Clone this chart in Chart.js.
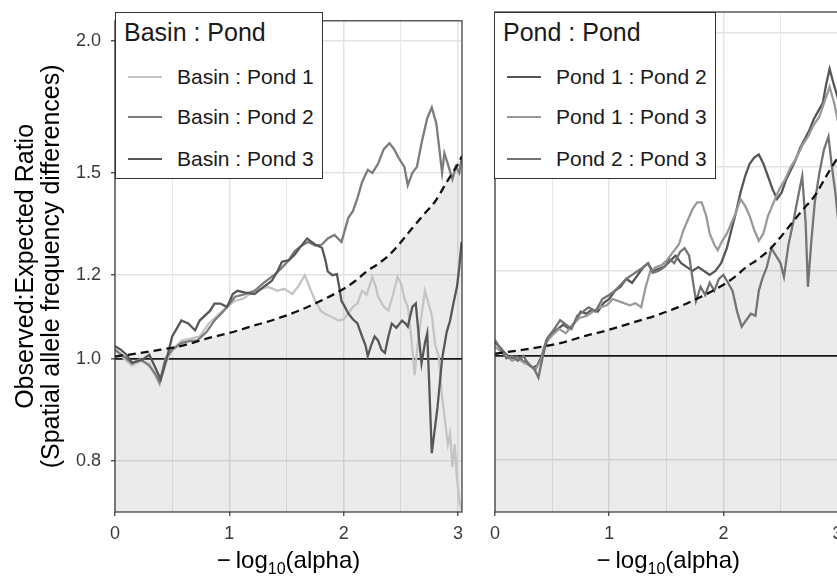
<!DOCTYPE html>
<html><head><meta charset="utf-8">
<script src="https://cdn.jsdelivr.net/npm/chart.js@4/dist/chart.umd.min.js"></script>
<style>
html,body{margin:0;padding:0;width:837px;height:576px;overflow:hidden;background:#fff;}
#wrap{position:relative;width:837px;height:576px;overflow:hidden;}
canvas{position:absolute;top:0;}
#c1{left:0;}
#c2{left:480px;}
.legend{position:absolute;top:12px;height:165px;border:1px solid #333;background:#fff;font-family:"Liberation Sans",Arial,sans-serif;color:#1a1a1a;z-index:2;}
.legend .ttl{position:absolute;left:8px;top:4px;font-size:25px;line-height:30px;white-space:nowrap;}
.legend .item{position:absolute;left:0;height:24px;line-height:24px;font-size:21px;white-space:nowrap;}
.legend .sw{position:absolute;left:12px;top:11px;width:34px;height:2px;}
.legend .lab{position:absolute;left:61px;top:0;}
#lg1{left:115px;width:206px;}
#lg2{left:494px;width:220px;}
</style></head>
<body>
<div id="wrap">
<canvas id="c1" width="475" height="576"></canvas>
<canvas id="c2" width="380" height="576"></canvas>
<div id="lg1" class="legend"></div>
<div id="lg2" class="legend"></div>
</div>
<script>
// ---------- data ----------
const xTickValues = [0, 0.5, 1, 1.5, 2, 2.5, 3];
const yTickValues = [0.8, 1.0, 1.2, 1.5, 2.0];
const xMin = 0, xMax = 3.034, yMin = 0.716, yMax = 2.09;
const yTitleLines = ['Observed:Expected Ratio', '(Spatial allele frequency differences)'];
const leftLegendTitle = 'Basin : Pond';
const rightLegendTitle = 'Pond : Pond';
const leftLabels = ['Basin : Pond 1', 'Basin : Pond 2', 'Basin : Pond 3'];
const rightLabels = ['Pond 1 : Pond 2', 'Pond 1 : Pond 3', 'Pond 2 : Pond 3'];

const expected = [[0,1.005],[0.2,1.012],[0.4,1.02],[0.6,1.03],[0.8,1.045],[1.0,1.058],[1.2,1.074],[1.4,1.09],[1.6,1.11],[1.8,1.135],[2.0,1.165],[2.1,1.185],[2.2,1.21],[2.3,1.23],[2.4,1.255],[2.5,1.29],[2.6,1.33],[2.7,1.37],[2.8,1.41],[2.9,1.47],[2.95,1.50],[3.0,1.53],[3.034,1.556]];

const basinPond1 = [[0,1.02],[0.08,1.0],[0.15,0.985],[0.22,0.995],[0.30,0.99],[0.36,0.96],[0.39,0.945],[0.44,0.99],[0.50,1.02],[0.58,1.04],[0.66,1.045],[0.74,1.05],[0.82,1.08],[0.90,1.10],[0.98,1.12],[1.05,1.135],[1.12,1.14],[1.22,1.16],[1.28,1.165],[1.34,1.17],[1.42,1.16],[1.48,1.165],[1.55,1.152],[1.60,1.17],[1.66,1.20],[1.70,1.17],[1.75,1.135],[1.80,1.11],[1.83,1.104],[1.90,1.095],[1.95,1.087],[2.00,1.09],[2.04,1.104],[2.08,1.12],[2.12,1.128],[2.16,1.16],[2.20,1.15],[2.25,1.195],[2.28,1.17],[2.30,1.145],[2.35,1.12],[2.39,1.111],[2.43,1.15],[2.47,1.195],[2.50,1.18],[2.53,1.14],[2.56,1.12],[2.59,1.05],[2.62,0.965],[2.65,1.04],[2.68,1.10],[2.71,1.16],[2.74,1.13],[2.77,1.10],[2.80,1.03],[2.83,1.006],[2.86,0.92],[2.89,0.866],[2.91,0.83],[2.93,0.85],[2.95,0.79],[2.97,0.83],[2.99,0.77],[3.01,0.735],[3.03,0.72]];

const basinPond2 = [[0,1.02],[0.08,1.005],[0.15,0.99],[0.22,1.0],[0.30,0.985],[0.36,0.965],[0.39,0.95],[0.44,1.0],[0.50,1.02],[0.58,1.035],[0.66,1.04],[0.72,1.041],[0.80,1.06],[0.87,1.087],[0.95,1.11],[1.05,1.145],[1.12,1.15],[1.22,1.16],[1.30,1.18],[1.40,1.203],[1.46,1.22],[1.52,1.24],[1.57,1.264],[1.63,1.28],[1.69,1.29],[1.75,1.28],[1.81,1.283],[1.86,1.30],[1.92,1.31],[1.98,1.29],[2.04,1.36],[2.08,1.38],[2.12,1.42],[2.16,1.47],[2.21,1.51],[2.25,1.50],[2.30,1.53],[2.35,1.58],[2.40,1.60],[2.44,1.58],[2.48,1.55],[2.53,1.52],[2.56,1.46],[2.60,1.50],[2.64,1.52],[2.68,1.60],[2.73,1.69],[2.77,1.73],[2.81,1.67],[2.86,1.50],[2.88,1.566],[2.91,1.53],[2.95,1.48],[2.98,1.52],[3.01,1.50],[3.03,1.546]];

const basinPond3 = [[0,1.028],[0.05,1.02],[0.10,1.009],[0.15,0.991],[0.24,0.998],[0.30,1.009],[0.36,0.977],[0.40,0.956],[0.45,0.998],[0.50,1.05],[0.58,1.087],[0.64,1.08],[0.70,1.064],[0.74,1.087],[0.83,1.11],[0.87,1.128],[0.92,1.128],[0.98,1.12],[1.03,1.152],[1.07,1.16],[1.14,1.155],[1.22,1.152],[1.30,1.17],[1.37,1.185],[1.42,1.21],[1.46,1.236],[1.52,1.24],[1.57,1.255],[1.63,1.28],[1.68,1.30],[1.72,1.29],[1.75,1.283],[1.81,1.274],[1.84,1.24],[1.86,1.21],[1.90,1.20],[1.94,1.203],[1.96,1.17],[1.98,1.135],[2.01,1.12],[2.04,1.104],[2.08,1.09],[2.12,1.08],[2.16,1.05],[2.19,1.03],[2.21,1.006],[2.24,1.03],[2.27,1.05],[2.30,1.041],[2.33,1.02],[2.36,1.013],[2.39,1.05],[2.42,1.08],[2.46,1.07],[2.51,1.087],[2.54,1.08],[2.56,1.073],[2.60,1.12],[2.63,1.128],[2.66,1.04],[2.68,0.99],[2.71,1.035],[2.73,1.057],[2.75,0.93],[2.77,0.814],[2.82,0.90],[2.86,1.0],[2.90,1.06],[2.93,1.087],[2.96,1.13],[2.99,1.17],[3.01,1.22],[3.03,1.29]];

const pond1Pond2 = [[0,1.03],[0.04,1.02],[0.09,1.005],[0.14,0.995],[0.19,1.0],[0.24,0.99],[0.29,0.985],[0.33,0.975],[0.37,0.98],[0.41,1.0],[0.45,1.035],[0.50,1.05],[0.55,1.06],[0.60,1.07],[0.65,1.06],[0.70,1.075],[0.75,1.10],[0.80,1.095],[0.85,1.105],[0.90,1.10],[0.95,1.12],[1.00,1.13],[1.05,1.15],[1.10,1.16],[1.15,1.18],[1.20,1.17],[1.25,1.19],[1.30,1.21],[1.34,1.22],[1.38,1.20],[1.43,1.205],[1.48,1.21],[1.53,1.225],[1.58,1.24],[1.63,1.22],[1.68,1.21],[1.73,1.20],[1.78,1.21],[1.83,1.20],[1.88,1.19],[1.93,1.20],[1.98,1.22],[2.03,1.26],[2.07,1.31],[2.11,1.36],[2.15,1.42],[2.19,1.47],[2.23,1.51],[2.27,1.53],[2.31,1.54],[2.35,1.51],[2.39,1.47],[2.43,1.43],[2.47,1.40],[2.51,1.42],[2.55,1.46],[2.59,1.49],[2.63,1.52],[2.67,1.56],[2.71,1.59],[2.75,1.62],[2.79,1.66],[2.83,1.69],[2.87,1.72],[2.90,1.79],[2.93,1.85],[2.96,1.80],[3.0,1.74],[3.03,1.68]];

const pond1Pond3 = [[0,1.02],[0.05,1.01],[0.10,1.0],[0.15,0.99],[0.20,0.995],[0.26,0.985],[0.31,0.98],[0.35,0.97],[0.40,0.99],[0.45,1.03],[0.50,1.045],[0.56,1.06],[0.62,1.05],[0.68,1.07],[0.74,1.085],[0.80,1.09],[0.86,1.10],[0.92,1.11],[0.98,1.115],[1.03,1.13],[1.08,1.125],[1.13,1.12],[1.18,1.115],[1.23,1.12],[1.28,1.11],[1.32,1.16],[1.36,1.20],[1.41,1.21],[1.46,1.215],[1.51,1.23],[1.56,1.25],[1.61,1.27],[1.65,1.31],[1.69,1.34],[1.73,1.37],[1.77,1.39],[1.81,1.39],[1.85,1.35],[1.88,1.30],[1.92,1.27],[1.95,1.255],[1.99,1.28],[2.03,1.30],[2.07,1.33],[2.11,1.36],[2.15,1.40],[2.19,1.38],[2.23,1.35],[2.27,1.31],[2.31,1.28],[2.35,1.30],[2.39,1.35],[2.44,1.39],[2.49,1.43],[2.54,1.46],[2.59,1.50],[2.64,1.53],[2.69,1.57],[2.74,1.60],[2.79,1.64],[2.84,1.67],[2.89,1.73],[2.93,1.78],[2.97,1.72],[3.01,1.64],[3.03,1.60]];

const pond2Pond3 = [[0,1.035],[0.05,1.015],[0.10,0.995],[0.15,1.0],[0.20,0.99],[0.25,1.0],[0.30,0.98],[0.34,0.975],[0.38,0.955],[0.42,1.0],[0.46,1.04],[0.52,1.06],[0.57,1.08],[0.62,1.07],[0.67,1.06],[0.72,1.09],[0.77,1.10],[0.82,1.11],[0.88,1.10],[0.94,1.13],[1.0,1.14],[1.05,1.15],[1.10,1.165],[1.15,1.18],[1.20,1.19],[1.25,1.20],[1.30,1.21],[1.34,1.22],[1.38,1.195],[1.43,1.20],[1.48,1.21],[1.53,1.23],[1.57,1.22],[1.62,1.25],[1.66,1.26],[1.70,1.24],[1.73,1.18],[1.76,1.125],[1.80,1.16],[1.84,1.14],[1.88,1.17],[1.92,1.15],[1.96,1.18],[2.0,1.19],[2.04,1.17],[2.08,1.15],[2.12,1.10],[2.16,1.065],[2.20,1.08],[2.24,1.095],[2.28,1.09],[2.31,1.15],[2.34,1.18],[2.38,1.21],[2.42,1.26],[2.46,1.24],[2.50,1.22],[2.53,1.185],[2.57,1.27],[2.61,1.33],[2.65,1.40],[2.69,1.47],[2.72,1.33],[2.74,1.16],[2.77,1.28],[2.80,1.39],[2.84,1.48],[2.88,1.556],[2.92,1.60],[2.95,1.50],[2.98,1.42],[3.01,1.32],[3.03,1.28]];

const leftColors = ['#c4c4c4', '#7c7c7c', '#575757'];
const rightColors = ['#565656', '#9a9a9a', '#747474'];

const xTitleParts = [
  {text: '\u2212', size: 24, gapAfter: 5},
  {text: 'log', size: 24},
  {text: '10', size: 16, dy: 6},
  {text: '(alpha)', size: 24}
];

// ---------- helpers ----------
const FONT = '"Liberation Sans", Arial, Helvetica, sans-serif';
const toPts = arr => arr.map(p => ({x: p[0], y: p[1]}));

const panelDecor = {
  id: 'panelDecor',
  afterDatasetsDraw(chart) {
    const {ctx, chartArea: a} = chart;
    ctx.save();
    ctx.strokeStyle = '#333';
    ctx.lineWidth = 1.2;
    ctx.strokeRect(a.left, a.top, a.right - a.left, a.bottom - a.top);
    ctx.restore();
  },
  afterDraw(chart, args, opts) {
    const parts = opts.parts;
    if (!parts) return;
    const {ctx, chartArea: a} = chart;
    ctx.save();
    let total = 0;
    const widths = parts.map(p => {
      ctx.font = p.size + 'px ' + FONT;
      const w = ctx.measureText(p.text).width + (p.gapAfter || 0);
      total += w;
      return w;
    });
    let x = (a.left + a.right) / 2 - total / 2;
    ctx.fillStyle = '#000';
    ctx.textAlign = 'left';
    ctx.textBaseline = 'alphabetic';
    parts.forEach((p, i) => {
      ctx.font = p.size + 'px ' + FONT;
      ctx.fillText(p.text, x, opts.baseline + (p.dy || 0));
      x += widths[i];
    });
    ctx.restore();
  }
};

function makeDatasets(series, labels, colors) {
  const ds = [];
  ds.push({label: 'expected area', data: toPts(expected), fill: 'start', backgroundColor: 'rgba(0,0,0,0.078)',
           borderWidth: 0, pointRadius: 0, tension: 0, order: 10});
  series.forEach((s, i) => {
    ds.push({label: labels[i], inLegend: true, data: toPts(s), borderColor: colors[i], backgroundColor: colors[i],
             borderWidth: 2.3, pointRadius: 0, tension: 0, fill: false, order: 3 - i});
  });
  ds.push({label: 'expected', data: toPts(expected), borderColor: '#111', borderWidth: 2.3, borderDash: [8, 5],
           pointRadius: 0, fill: false, cubicInterpolationMode: 'monotone', order: 0});
  return ds;
}

function makeOptions(showY) {
  return {
    responsive: false, animation: false, devicePixelRatio: 1,
    layout: {padding: {top: 12, right: showY ? 13 : 18.5, left: 0, bottom: 0}},
    plugins: {legend: {display: false}, tooltip: {enabled: false},
              panelDecor: {parts: xTitleParts, baseline: 568}},
    scales: {
      x: {
        type: 'linear', min: xMin, max: xMax,
        afterBuildTicks(s) { s.ticks = xTickValues.map(v => ({value: v})); },
        afterFit(s) { s.height = 64; },
        ticks: {autoSkip: false, maxRotation: 0, padding: 7, color: '#3a3a3a',
                font: {family: FONT, size: 18},
                callback: v => Number.isInteger(v) ? String(v) : ''},
        grid: {color: '#e3e3e3',
               lineWidth: c => (c.tick && !Number.isInteger(c.tick.value)) ? 0.8 : 1.5,
               drawTicks: true, tickLength: 4,
               tickColor: c => (c.tick && !Number.isInteger(c.tick.value)) ? 'rgba(0,0,0,0)' : '#333',
               tickWidth: 1.2},
        border: {display: false}
      },
      y: {
        type: 'logarithmic', min: yMin, max: yMax, bounds: 'data',
        afterBuildTicks(s) { s.ticks = yTickValues.map(v => ({value: v})); },
        afterFit(s) { s.width = showY ? 115 : 15; },
        ticks: {display: showY, padding: 10, color: '#3a3a3a', font: {family: FONT, size: 18},
                callback: v => Number(v).toFixed(1)},
        grid: {color: c => (c.tick && Math.abs(c.tick.value - 1) < 1e-9) ? '#1a1a1a' : '#e3e3e3',
               lineWidth: c => (c.tick && Math.abs(c.tick.value - 1) < 1e-9) ? 1.7 : 1.5,
               drawTicks: showY, tickLength: 4, tickColor: '#333', tickWidth: 1.2},
        title: {display: showY, text: yTitleLines, color: '#000',
                font: {family: FONT, size: 25, lineHeight: 1.05}, padding: {top: 13, bottom: 0}},
        border: {display: false}
      }
    }
  };
}

function buildLegend(el, chart, title) {
  el.innerHTML = '';
  const t = document.createElement('div');
  t.className = 'ttl';
  t.textContent = title;
  el.appendChild(t);
  const tops = [52, 92, 134];
  chart.data.datasets.filter(d => d.inLegend).forEach((d, i) => {
    const item = document.createElement('div');
    item.className = 'item';
    item.style.top = tops[i] + 'px';
    const sw = document.createElement('div');
    sw.className = 'sw';
    sw.style.background = d.borderColor;
    const lab = document.createElement('div');
    lab.className = 'lab';
    lab.textContent = d.label;
    item.appendChild(sw);
    item.appendChild(lab);
    el.appendChild(item);
  });
}

const chartLeft = new Chart(document.getElementById('c1'), {
  type: 'line',
  data: {datasets: makeDatasets([basinPond1, basinPond2, basinPond3], leftLabels, leftColors)},
  options: makeOptions(true),
  plugins: [panelDecor]
});
const chartRight = new Chart(document.getElementById('c2'), {
  type: 'line',
  data: {datasets: makeDatasets([pond1Pond2, pond1Pond3, pond2Pond3], rightLabels, rightColors)},
  options: makeOptions(false),
  plugins: [panelDecor]
});
buildLegend(document.getElementById('lg1'), chartLeft, leftLegendTitle);
buildLegend(document.getElementById('lg2'), chartRight, rightLegendTitle);
</script>
</body></html>
